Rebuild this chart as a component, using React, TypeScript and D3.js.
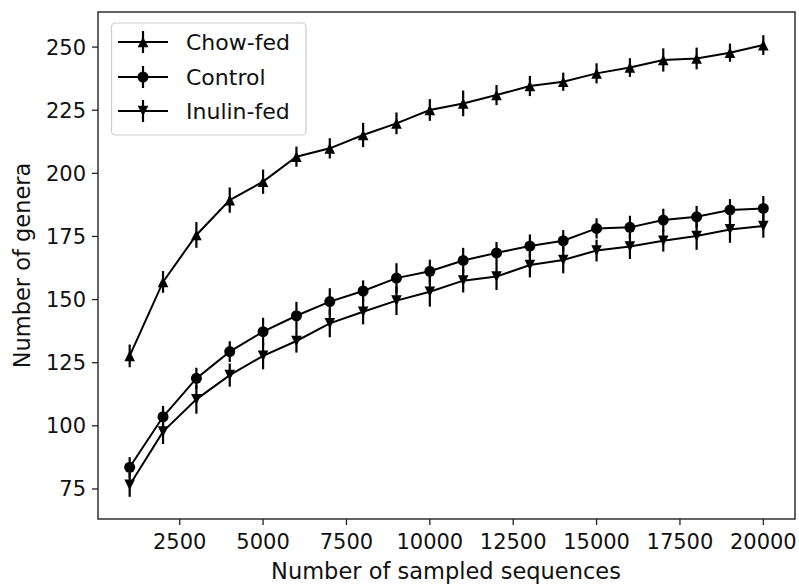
import React from "react";
import * as d3 from "d3";

const xValues = [1000, 2000, 3000, 4000, 5000, 6000, 7000, 8000, 9000, 10000, 11000, 12000, 13000, 14000, 15000, 16000, 17000, 18000, 19000, 20000];

const chowMean = [127.7, 157, 175.6, 189.4, 196.7, 206.6, 209.9, 215.2, 219.8, 225.1, 227.7, 231, 234.6, 236.3, 239.6, 241.9, 244.9, 245.5, 247.8, 250.8];
const chowErr = [4.5, 4.3, 5.1, 5, 4.8, 4, 4, 4.8, 4.3, 4.3, 5.1, 4, 4, 3.6, 4, 3.7, 4.6, 4.3, 3.6, 3.9];

const controlMean = [83.6, 103.6, 118.8, 129.4, 137.3, 143.6, 149.2, 153.4, 158.5, 161.2, 165.5, 168.5, 171.2, 173.3, 178.2, 178.6, 181.5, 182.8, 185.5, 186.1];
const controlErr = [4, 4.3, 4.2, 4.1, 5.5, 5.5, 5.3, 4.2, 5.9, 4.6, 5, 4.3, 4.6, 4.2, 4, 4.6, 4.5, 4.3, 4.3, 4.9];

const inulinMean = [76.6, 97.7, 110.5, 120.1, 127.7, 133.6, 140.6, 145.2, 149.6, 153.1, 157.5, 159.1, 163.7, 165.7, 169.4, 171, 173.3, 175.2, 177.8, 179.1];
const inulinErr = [4.7, 4.9, 5.7, 4.6, 5.3, 4.6, 5.5, 5, 5.7, 5.9, 4.7, 5.3, 4.9, 5.3, 4.3, 4.9, 4.3, 5.5, 5.3, 4.6];

const seriesNames = ["Chow-fed", "Control", "Inulin-fed"];
const seriesMarkers = ["up", "circle", "down"];

const xTicks = [2500, 5000, 7500, 10000, 12500, 15000, 17500, 20000];
const yTicks = [75, 100, 125, 150, 175, 200, 225, 250];

const W = 799;
const H = 584;
const plotLeft = 98;
const plotRight = 795;
const plotTop = 12;
const plotBottom = 519;
const FONT = "'DejaVu Sans', sans-serif";

const x = d3.scaleLinear().domain([50, 20950]).range([plotLeft, plotRight]);
const y = d3.scaleLinear().domain([63.1, 263.9]).range([plotBottom, plotTop]);

function Marker({ kind, cx, cy }: { kind: string; cx: number; cy: number }) {
  if (kind === "circle") return <circle cx={cx} cy={cy} r={5.5} fill="#000" />;
  const s = 5.3;
  const p = kind === "up"
    ? `M${cx},${cy - s}L${cx - s},${cy + s}L${cx + s},${cy + s}Z`
    : `M${cx},${cy + s}L${cx - s},${cy - s}L${cx + s},${cy - s}Z`;
  return <path d={p} fill="#000" />;
}

export default function App() {
  const all = [
    { mean: chowMean, err: chowErr },
    { mean: controlMean, err: controlErr },
    { mean: inulinMean, err: inulinErr },
  ];
  const line = d3.line<number>().x((_, i) => x(xValues[i])).y((d) => y(d));
  const legendRows = [42, 77, 111];
  return (
    <svg width={W} height={H} style={{ position: "absolute", left: 0, top: 0, background: "#fff" }} fontFamily={FONT}>
      <rect x={0} y={0} width={W} height={H} fill="#fff" />
      {all.map((s, si) => (
        <g key={si}>
          {s.mean.map((m, i) => (
            <line key={i} x1={x(xValues[i])} x2={x(xValues[i])} y1={y(m - s.err[i])} y2={y(m + s.err[i])} stroke="#000" strokeWidth={2.2} />
          ))}
          <path d={line(s.mean) || ""} fill="none" stroke="#000" strokeWidth={2} />
          {s.mean.map((m, i) => (
            <Marker key={i} kind={seriesMarkers[si]} cx={x(xValues[i])} cy={y(m)} />
          ))}
        </g>
      ))}
      <rect x={plotLeft} y={plotTop} width={plotRight - plotLeft} height={plotBottom - plotTop} fill="none" stroke="#222" strokeWidth={1.4} />
      {xTicks.map((t) => (
        <g key={t}>
          <line x1={x(t)} x2={x(t)} y1={plotBottom} y2={plotBottom + 6} stroke="#222" strokeWidth={1.3} />
          <text x={x(t)} y={549} textAnchor="middle" fontSize={21} fill="#111">{t}</text>
        </g>
      ))}
      {yTicks.map((t) => (
        <g key={t}>
          <line x1={plotLeft - 6} x2={plotLeft} y1={y(t)} y2={y(t)} stroke="#222" strokeWidth={1.3} />
          <text x={86} y={y(t) + 7.5} textAnchor="end" fontSize={21} fill="#111">{t}</text>
        </g>
      ))}
      <text x={(plotLeft + plotRight) / 2 - 0.5} y={579} textAnchor="middle" fontSize={22.5} fill="#111">Number of sampled sequences</text>
      <text transform={`translate(30,${(plotTop + plotBottom) / 2}) rotate(-90)`} textAnchor="middle" fontSize={22.5} fill="#111">Number of genera</text>
      <rect x={111.5} y={23} width={194.5} height={112} rx={4} fill="#fff" fillOpacity={0.85} stroke="#ccc" strokeWidth={1.2} />
      {seriesNames.map((n, i) => (
        <g key={n}>
          <line x1={118} x2={168} y1={legendRows[i]} y2={legendRows[i]} stroke="#000" strokeWidth={2} />
          <line x1={143} x2={143} y1={legendRows[i] - 11} y2={legendRows[i] + 11} stroke="#000" strokeWidth={2.2} />
          <Marker kind={seriesMarkers[i]} cx={143} cy={legendRows[i]} />
          <text x={186} y={legendRows[i] + 8} fontSize={22} fill="#111">{n}</text>
        </g>
      ))}
    </svg>
  );
}
